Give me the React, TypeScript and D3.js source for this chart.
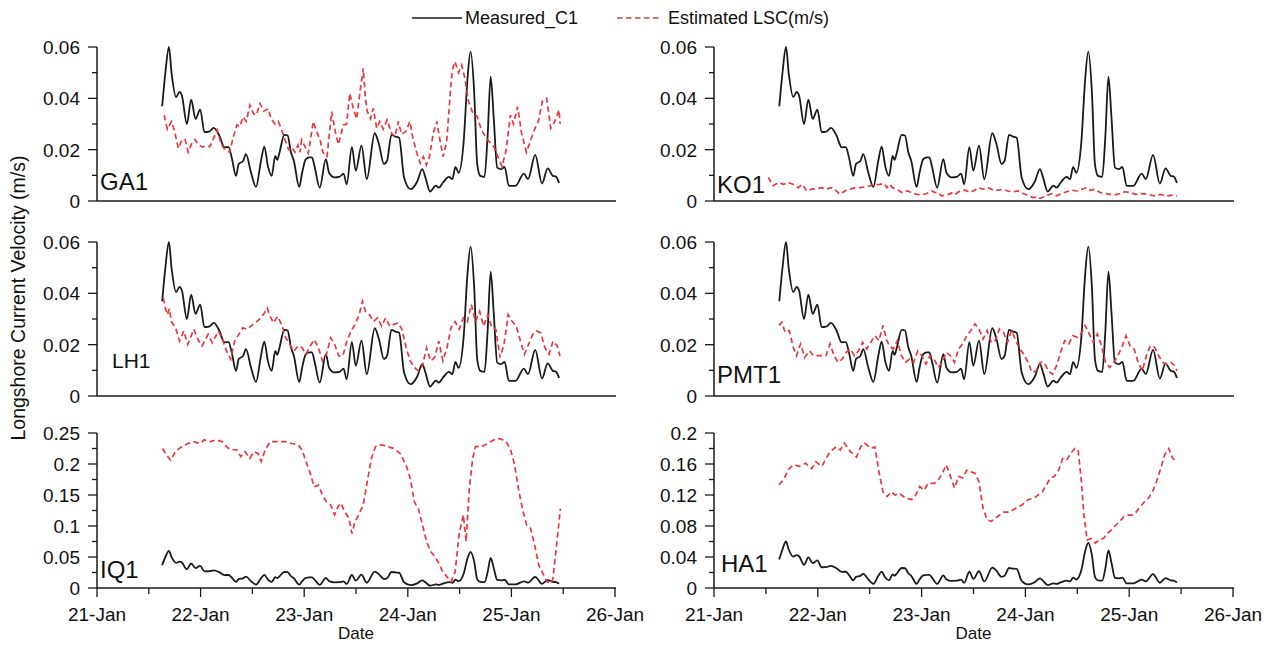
import React from 'react';
import * as d3 from 'd3';

// ---------- DATA ----------
const dayTicks = [21, 22, 23, 24, 25, 26];
const dayMinorTicks = [21.5, 22.5, 23.5, 24.5, 25.5];
const smallYTicks = [0, 0.02, 0.04, 0.06];
const smallYMinor = [0.01, 0.03, 0.05];
const iqYTicks = [0, 0.05, 0.1, 0.15, 0.2, 0.25];
const iqYMinor = [0.025, 0.075, 0.125, 0.175, 0.225];
const haYTicks = [0, 0.04, 0.08, 0.12, 0.16, 0.2];
const haYMinor = [0.02, 0.06, 0.1, 0.14, 0.18];
const seriesNames = ['Measured_C1', 'Estimated LSC(m/s)'];
const stationNames = ['GA1', 'KO1', 'LH1', 'PMT1', 'IQ1', 'HA1'];

// [day of January, velocity m/s]
const measured: [number, number][] = [
  [21.629, 0.0369], [21.66, 0.05], [21.694, 0.06], [21.72, 0.0497], [21.764, 0.0405], [21.796, 0.0425], [21.82, 0.041],
  [21.867, 0.03], [21.909, 0.0395], [21.951, 0.032], [21.996, 0.0356], [22.037, 0.0268], [22.08, 0.027], [22.127, 0.0285],
  [22.18, 0.0255], [22.23, 0.0209], [22.27, 0.021], [22.3, 0.017], [22.342, 0.0098], [22.368, 0.0144], [22.41, 0.0156],
  [22.438, 0.0183], [22.487, 0.011], [22.535, 0.0055], [22.583, 0.0157], [22.615, 0.0212], [22.65, 0.0135], [22.686, 0.0098],
  [22.721, 0.0176], [22.74, 0.016], [22.76, 0.0186], [22.808, 0.0258], [22.84, 0.0255], [22.872, 0.019], [22.9, 0.0157],
  [22.952, 0.0055], [22.98, 0.011], [23.016, 0.0163], [23.05, 0.017], [23.075, 0.017], [23.1, 0.0134], [23.15, 0.0052],
  [23.209, 0.0163], [23.24, 0.011], [23.29, 0.0092], [23.34, 0.0094], [23.38, 0.0107], [23.41, 0.0065], [23.46, 0.021],
  [23.498, 0.0118], [23.553, 0.0216], [23.604, 0.0085], [23.681, 0.0264], [23.72, 0.0224], [23.77, 0.0144], [23.8, 0.0157],
  [23.842, 0.0258], [23.88, 0.0251], [23.916, 0.0246], [23.964, 0.0092], [24.028, 0.0046], [24.09, 0.0075], [24.14, 0.0124],
  [24.17, 0.0092], [24.215, 0.0037], [24.27, 0.006], [24.3, 0.0052], [24.34, 0.0072], [24.398, 0.0094], [24.43, 0.0085],
  [24.46, 0.0133], [24.49, 0.011], [24.54, 0.0235], [24.575, 0.047], [24.606, 0.0582], [24.64, 0.043], [24.67, 0.0144],
  [24.7, 0.0098], [24.74, 0.0094], [24.77, 0.025], [24.8, 0.0484], [24.83, 0.032], [24.863, 0.013], [24.9, 0.0124],
  [24.934, 0.0133], [24.976, 0.0059], [25.04, 0.0059], [25.12, 0.0107], [25.16, 0.0085], [25.23, 0.018], [25.295, 0.0068],
  [25.35, 0.0127], [25.4, 0.0098], [25.43, 0.0095], [25.46, 0.007],
];

const ga1Est: [number, number][] = [
  [21.65, 0.0335], [21.66, 0.031], [21.68, 0.028], [21.72, 0.031], [21.75, 0.027], [21.785, 0.0205], [21.82, 0.0238],
  [21.85, 0.024], [21.88, 0.019], [21.91, 0.022], [21.945, 0.024], [21.98, 0.022], [22.016, 0.021], [22.05, 0.0215],
  [22.09, 0.0212], [22.12, 0.024], [22.16, 0.0277], [22.2, 0.022], [22.235, 0.02], [22.28, 0.019], [22.316, 0.025],
  [22.35, 0.0296], [22.38, 0.029], [22.41, 0.0328], [22.44, 0.031], [22.476, 0.0374], [22.51, 0.034], [22.54, 0.0335],
  [22.573, 0.038], [22.61, 0.035], [22.653, 0.036], [22.68, 0.032], [22.718, 0.03], [22.75, 0.031], [22.78, 0.028],
  [22.815, 0.0238], [22.85, 0.02], [22.88, 0.021], [22.91, 0.019], [22.94, 0.0218], [22.96, 0.019], [22.975, 0.0238],
  [23.01, 0.021], [23.04, 0.0186], [23.088, 0.031], [23.12, 0.027], [23.15, 0.0244], [23.18, 0.019], [23.22, 0.0173],
  [23.265, 0.0348], [23.3, 0.027], [23.33, 0.022], [23.377, 0.0296], [23.41, 0.03], [23.44, 0.042], [23.47, 0.0367],
  [23.506, 0.032], [23.545, 0.0445], [23.57, 0.0517], [23.59, 0.04], [23.61, 0.0348], [23.64, 0.032], [23.667, 0.0361],
  [23.7, 0.0283], [23.73, 0.031], [23.763, 0.028], [23.8, 0.0316], [23.844, 0.0264], [23.875, 0.025], [23.908, 0.031],
  [23.94, 0.026], [23.98, 0.027], [24.02, 0.031], [24.05, 0.0244], [24.085, 0.019], [24.12, 0.0147], [24.15, 0.0173],
  [24.18, 0.014], [24.21, 0.0173], [24.245, 0.0264], [24.28, 0.031], [24.31, 0.0238], [24.34, 0.0173], [24.375, 0.023],
  [24.41, 0.042], [24.43, 0.051], [24.455, 0.0543], [24.49, 0.05], [24.52, 0.053], [24.55, 0.048], [24.585, 0.039],
  [24.63, 0.034], [24.67, 0.033], [24.71, 0.0277], [24.77, 0.0238], [24.83, 0.0212], [24.87, 0.0173], [24.91, 0.0134],
  [24.95, 0.02], [24.99, 0.0335], [25.02, 0.03], [25.06, 0.0367], [25.1, 0.026], [25.145, 0.019], [25.18, 0.023],
  [25.225, 0.028], [25.26, 0.031], [25.3, 0.039], [25.34, 0.04], [25.38, 0.0283], [25.42, 0.031], [25.46, 0.0355],
  [25.47, 0.03],
];

const ko1Est: [number, number][] = [
  [21.523, 0.0092], [21.57, 0.0059], [21.62, 0.0072], [21.67, 0.0065], [21.716, 0.0072], [21.76, 0.0065], [21.812, 0.0052],
  [21.85, 0.0065], [21.893, 0.0039], [21.94, 0.0046], [21.99, 0.0048], [22.035, 0.0052], [22.08, 0.0046], [22.13, 0.0052],
  [22.17, 0.0042], [22.214, 0.0026], [22.26, 0.0039], [22.31, 0.0046], [22.36, 0.0052], [22.41, 0.0052], [22.455, 0.0055],
  [22.5, 0.0059], [22.551, 0.0063], [22.6, 0.0065], [22.64, 0.0068], [22.665, 0.0052], [22.69, 0.0065], [22.72, 0.0052],
  [22.76, 0.0046], [22.81, 0.0033], [22.86, 0.0039], [22.905, 0.0033], [22.953, 0.0026], [23.0, 0.0024], [23.05, 0.0029],
  [23.1, 0.0039], [23.13, 0.0033], [23.16, 0.0033], [23.19, 0.002], [23.26, 0.0026], [23.3, 0.0033], [23.324, 0.0026],
  [23.37, 0.0039], [23.42, 0.0042], [23.47, 0.0033], [23.51, 0.0042], [23.546, 0.0052], [23.59, 0.0046], [23.64, 0.0052],
  [23.69, 0.0042], [23.74, 0.0042], [23.787, 0.0046], [23.83, 0.0039], [23.88, 0.0036], [23.93, 0.0039], [23.98, 0.0029],
  [24.03, 0.002], [24.076, 0.0013], [24.11, 0.0016], [24.14, 0.001], [24.2, 0.002], [24.253, 0.0029], [24.3, 0.002],
  [24.35, 0.0029], [24.398, 0.0036], [24.45, 0.0042], [24.5, 0.0039], [24.543, 0.0046], [24.59, 0.0052], [24.625, 0.0042],
  [24.67, 0.0046], [24.719, 0.0033], [24.77, 0.0029], [24.815, 0.0026], [24.865, 0.0024], [24.91, 0.0029], [24.96, 0.0036],
  [25.01, 0.0033], [25.06, 0.0026], [25.12, 0.0029], [25.18, 0.0026], [25.24, 0.002], [25.3, 0.0026], [25.36, 0.002],
  [25.42, 0.0023], [25.46, 0.002],
];

const lh1Est: [number, number][] = [
  [21.64, 0.0382], [21.66, 0.0343], [21.679, 0.0317], [21.699, 0.034], [21.718, 0.029], [21.758, 0.0266], [21.797, 0.0214],
  [21.837, 0.0253], [21.876, 0.0201], [21.935, 0.026], [21.975, 0.022], [22.014, 0.0195], [22.073, 0.024], [22.112, 0.0208],
  [22.172, 0.0253], [22.211, 0.022], [22.25, 0.0175], [22.29, 0.0143], [22.329, 0.0214], [22.369, 0.024], [22.408, 0.0266],
  [22.447, 0.026], [22.507, 0.0279], [22.566, 0.0298], [22.605, 0.0317], [22.644, 0.0343], [22.664, 0.0317], [22.703, 0.0285],
  [22.743, 0.031], [22.782, 0.0279], [22.821, 0.0227], [22.861, 0.0201], [22.9, 0.0175], [22.94, 0.0195], [22.979, 0.0188],
  [23.018, 0.0163], [23.058, 0.0195], [23.097, 0.022], [23.137, 0.0188], [23.176, 0.0137], [23.215, 0.0163], [23.255, 0.0227],
  [23.294, 0.0201], [23.333, 0.0156], [23.373, 0.0156], [23.412, 0.0214], [23.452, 0.0253], [23.491, 0.0279], [23.531, 0.0317],
  [23.562, 0.0369], [23.59, 0.033], [23.629, 0.0317], [23.669, 0.029], [23.708, 0.0304], [23.747, 0.0272], [23.787, 0.0304],
  [23.826, 0.0272], [23.866, 0.0279], [23.905, 0.0285], [23.944, 0.026], [23.984, 0.0188], [24.023, 0.0137], [24.063, 0.0111],
  [24.102, 0.0098], [24.141, 0.0117], [24.181, 0.0188], [24.22, 0.0137], [24.26, 0.015], [24.299, 0.0214], [24.338, 0.0137],
  [24.378, 0.0188], [24.417, 0.0266], [24.457, 0.029], [24.496, 0.026], [24.536, 0.0304], [24.575, 0.029], [24.614, 0.0356],
  [24.654, 0.029], [24.693, 0.033], [24.732, 0.0272], [24.772, 0.0317], [24.811, 0.0266], [24.85, 0.026], [24.89, 0.015],
  [24.929, 0.0201], [24.969, 0.0317], [25.008, 0.029], [25.047, 0.0272], [25.087, 0.0214], [25.126, 0.0163], [25.166, 0.0201],
  [25.205, 0.024], [25.244, 0.0253], [25.284, 0.0246], [25.323, 0.0188], [25.363, 0.0163], [25.402, 0.0214], [25.442, 0.0195],
  [25.469, 0.0156],
];

const pmt1Est: [number, number][] = [
  [21.626, 0.0275], [21.654, 0.0288], [21.685, 0.0248], [21.724, 0.0255], [21.764, 0.019], [21.795, 0.0157], [21.834, 0.0203],
  [21.874, 0.015], [21.921, 0.0176], [21.96, 0.0157], [22.019, 0.0157], [22.078, 0.0157], [22.118, 0.0203], [22.157, 0.0157],
  [22.196, 0.0131], [22.235, 0.0144], [22.275, 0.017], [22.314, 0.0183], [22.353, 0.0157], [22.393, 0.0176], [22.432, 0.0209],
  [22.471, 0.0183], [22.511, 0.0209], [22.55, 0.0235], [22.589, 0.0216], [22.628, 0.0275], [22.66, 0.0222], [22.688, 0.0196],
  [22.727, 0.0183], [22.766, 0.0216], [22.806, 0.0157], [22.845, 0.0131], [22.884, 0.0144], [22.924, 0.0131], [22.963, 0.0176],
  [23.002, 0.0157], [23.042, 0.0124], [23.081, 0.0157], [23.12, 0.0144], [23.16, 0.0111], [23.199, 0.0131], [23.238, 0.017],
  [23.278, 0.0157], [23.317, 0.0131], [23.356, 0.0183], [23.396, 0.0203], [23.435, 0.0235], [23.474, 0.0255], [23.514, 0.0281],
  [23.553, 0.0261], [23.592, 0.0222], [23.631, 0.0255], [23.671, 0.0209], [23.71, 0.0216], [23.749, 0.0261], [23.789, 0.0248],
  [23.828, 0.0209], [23.867, 0.0255], [23.907, 0.0216], [23.946, 0.0183], [23.985, 0.0163], [24.025, 0.0131], [24.064, 0.0092],
  [24.103, 0.0098], [24.143, 0.0131], [24.182, 0.0131], [24.221, 0.0098], [24.261, 0.0085], [24.3, 0.0118], [24.339, 0.017],
  [24.379, 0.0216], [24.418, 0.0203], [24.457, 0.0235], [24.497, 0.0229], [24.536, 0.0242], [24.575, 0.0275], [24.615, 0.0242],
  [24.654, 0.0209], [24.693, 0.0242], [24.733, 0.0196], [24.772, 0.0131], [24.811, 0.0111], [24.851, 0.0131], [24.89, 0.0157],
  [24.929, 0.019], [24.969, 0.0235], [25.008, 0.0196], [25.047, 0.0183], [25.087, 0.0131], [25.126, 0.0098], [25.165, 0.0157],
  [25.204, 0.0196], [25.244, 0.019], [25.283, 0.0157], [25.322, 0.0131], [25.362, 0.0124], [25.401, 0.0131], [25.44, 0.0118],
  [25.46, 0.0098],
];

const iq1Est: [number, number][] = [
  [21.632, 0.225], [21.66, 0.217], [21.71, 0.206], [21.758, 0.22], [21.817, 0.228], [21.876, 0.233], [21.935, 0.236],
  [21.994, 0.233], [22.033, 0.239], [22.093, 0.236], [22.152, 0.239], [22.211, 0.236], [22.25, 0.228], [22.29, 0.223],
  [22.349, 0.223], [22.388, 0.212], [22.428, 0.22], [22.475, 0.209], [22.514, 0.22], [22.554, 0.217], [22.585, 0.204],
  [22.625, 0.223], [22.672, 0.236], [22.743, 0.236], [22.821, 0.236], [22.88, 0.233], [22.94, 0.231], [22.979, 0.223],
  [23.018, 0.204], [23.058, 0.185], [23.097, 0.163], [23.137, 0.166], [23.176, 0.15], [23.215, 0.139], [23.255, 0.134],
  [23.294, 0.118], [23.326, 0.131], [23.353, 0.137], [23.393, 0.123], [23.432, 0.112], [23.46, 0.088], [23.491, 0.107],
  [23.531, 0.12], [23.57, 0.134], [23.609, 0.172], [23.649, 0.209], [23.688, 0.228], [23.747, 0.231], [23.806, 0.228],
  [23.866, 0.225], [23.925, 0.217], [23.984, 0.198], [24.023, 0.177], [24.063, 0.139], [24.102, 0.128], [24.141, 0.102],
  [24.181, 0.075], [24.22, 0.059], [24.26, 0.051], [24.299, 0.04], [24.338, 0.026], [24.378, 0.018], [24.417, 0.01],
  [24.457, 0.026], [24.496, 0.088], [24.536, 0.118], [24.563, 0.075], [24.594, 0.161], [24.626, 0.209], [24.654, 0.228],
  [24.713, 0.228], [24.772, 0.233], [24.831, 0.239], [24.89, 0.241], [24.949, 0.236], [24.988, 0.225], [25.028, 0.201],
  [25.067, 0.161], [25.106, 0.128], [25.146, 0.102], [25.185, 0.096], [25.225, 0.069], [25.264, 0.037], [25.303, 0.024],
  [25.343, 0.01], [25.382, 0.0075], [25.402, 0.016], [25.422, 0.048], [25.453, 0.096], [25.473, 0.128],
];

const ha1Est: [number, number][] = [
  [21.626, 0.133], [21.665, 0.139], [21.724, 0.154], [21.764, 0.159], [21.823, 0.157], [21.882, 0.161], [21.941, 0.154],
  [21.98, 0.163], [22.039, 0.157], [22.078, 0.167], [22.118, 0.176], [22.176, 0.182], [22.216, 0.178], [22.255, 0.187],
  [22.314, 0.176], [22.373, 0.169], [22.412, 0.182], [22.452, 0.187], [22.511, 0.18], [22.55, 0.182], [22.589, 0.15],
  [22.628, 0.124], [22.668, 0.118], [22.707, 0.124], [22.746, 0.12], [22.786, 0.122], [22.845, 0.116], [22.904, 0.114],
  [22.943, 0.12], [22.983, 0.131], [23.022, 0.126], [23.061, 0.135], [23.12, 0.135], [23.16, 0.139], [23.199, 0.148],
  [23.238, 0.159], [23.278, 0.144], [23.317, 0.129], [23.356, 0.144], [23.396, 0.142], [23.435, 0.152], [23.474, 0.15],
  [23.514, 0.148], [23.553, 0.137], [23.592, 0.103], [23.631, 0.088], [23.671, 0.086], [23.73, 0.092], [23.789, 0.098],
  [23.848, 0.098], [23.907, 0.103], [23.966, 0.107], [24.025, 0.114], [24.084, 0.116], [24.123, 0.12], [24.163, 0.124],
  [24.202, 0.133], [24.241, 0.142], [24.28, 0.144], [24.32, 0.152], [24.359, 0.167], [24.398, 0.165], [24.438, 0.174],
  [24.477, 0.18], [24.508, 0.178], [24.536, 0.142], [24.564, 0.094], [24.595, 0.062], [24.634, 0.064], [24.673, 0.058],
  [24.713, 0.062], [24.752, 0.064], [24.792, 0.071], [24.831, 0.075], [24.87, 0.081], [24.909, 0.086], [24.949, 0.092],
  [24.988, 0.094], [25.027, 0.094], [25.067, 0.098], [25.106, 0.105], [25.145, 0.111], [25.185, 0.116], [25.224, 0.124],
  [25.263, 0.137], [25.303, 0.154], [25.342, 0.172], [25.381, 0.18], [25.421, 0.167], [25.46, 0.163],
];

// ---------- LAYOUT ----------
const W = 1270;
const H = 645;
const FONT = '"Liberation Sans", Arial, Helvetica, sans-serif';
const BLACK = '#1a1a1a';
const RED = '#e8383d';

const cols = [
  { x0: 97, x1: 615 },
  { x0: 714, x1: 1233 },
];
const rows = [
  { top: 47, bottom: 201 },
  { top: 242, bottom: 396 },
  { top: 433, bottom: 588 },
];

const base = new Date(2020, 0, 1).getTime();
const toDate = (d: number) => new Date(base + (d - 1) * 86400000);
const fmtDate = d3.timeFormat('%d-%b');

interface PanelDef {
  name: string;
  est: [number, number][];
  yTicks: number[];
  yMinor: number[];
  col: number;
  row: number;
  label: { dx: number; y: number; size: number };
}

const panels: PanelDef[] = [
  { name: stationNames[0], est: ga1Est, yTicks: smallYTicks, yMinor: smallYMinor, col: 0, row: 0, label: { dx: 3, y: 190, size: 24 } },
  { name: stationNames[1], est: ko1Est, yTicks: smallYTicks, yMinor: smallYMinor, col: 1, row: 0, label: { dx: 3, y: 193, size: 24 } },
  { name: stationNames[2], est: lh1Est, yTicks: smallYTicks, yMinor: smallYMinor, col: 0, row: 1, label: { dx: 15, y: 368, size: 21 } },
  { name: stationNames[3], est: pmt1Est, yTicks: smallYTicks, yMinor: smallYMinor, col: 1, row: 1, label: { dx: 3, y: 383, size: 24 } },
  { name: stationNames[4], est: iq1Est, yTicks: iqYTicks, yMinor: iqYMinor, col: 0, row: 2, label: { dx: 3, y: 578, size: 24 } },
  { name: stationNames[5], est: ha1Est, yTicks: haYTicks, yMinor: haYMinor, col: 1, row: 2, label: { dx: 7, y: 572, size: 24 } },
];

const Txt: React.FC<{
  x: number; y: number; size: number; anchor?: string; rotate?: number; children: React.ReactNode;
}> = ({ x, y, size, anchor = 'start', rotate = 0, children }) => (
  <text
    transform={`translate(${x},${y})${rotate ? ` rotate(${rotate})` : ''}`}
    fontFamily={FONT}
    fontSize={size}
    textAnchor={anchor as any}
    fill="#111"
  >
    {children}
  </text>
);

const Panel: React.FC<{ p: PanelDef }> = ({ p }) => {
  const c = cols[p.col];
  const r = rows[p.row];
  const x = d3.scaleTime().domain([toDate(dayTicks[0]), toDate(dayTicks[dayTicks.length - 1])]).range([c.x0, c.x1]);
  const yMax = p.yTicks[p.yTicks.length - 1];
  const y = d3.scaleLinear().domain([0, yMax]).range([r.bottom, r.top]);
  const blackLine = d3
    .line<[number, number]>()
    .x((d) => x(toDate(d[0])))
    .y((d) => y(d[1]))
    .curve(d3.curveMonotoneX);
  const redLine = d3
    .line<[number, number]>()
    .x((d) => x(toDate(d[0])))
    .y((d) => y(d[1]))
    .curve(d3.curveLinear);
  const isBottom = p.row === 2;
  const fmtY = (v: number) => (v === 0 ? '0' : d3.format('~g')(+v.toFixed(3)));
  return (
    <g>
      <line x1={c.x0} x2={c.x1 + 1} y1={r.bottom} y2={r.bottom} stroke={BLACK} strokeWidth={1.5} />
      <line x1={c.x0} x2={c.x0} y1={r.top} y2={r.bottom} stroke={BLACK} strokeWidth={1.5} />
      {p.yTicks.map((t) => (
        <g key={'yt' + t}>
          <line x1={c.x0 - 9} x2={c.x0} y1={y(t)} y2={y(t)} stroke={BLACK} strokeWidth={1.3} />
          <Txt x={c.x0 - 17} y={y(t) + 7} size={19} anchor="end">
            {fmtY(t)}
          </Txt>
        </g>
      ))}
      {p.yMinor.map((t) => (
        <line key={'ym' + t} x1={c.x0 - 5} x2={c.x0} y1={y(t)} y2={y(t)} stroke={BLACK} strokeWidth={1.3} />
      ))}
      {isBottom &&
        dayTicks.map((d) => (
          <g key={'xt' + d}>
            <line x1={x(toDate(d))} x2={x(toDate(d))} y1={r.bottom} y2={r.bottom + 9} stroke={BLACK} strokeWidth={1.3} />
            <Txt x={x(toDate(d))} y={r.bottom + 33} size={19} anchor="middle">
              {fmtDate(toDate(d))}
            </Txt>
          </g>
        ))}
      {isBottom &&
        dayMinorTicks.map((d) => (
          <line key={'xm' + d} x1={x(toDate(d))} x2={x(toDate(d))} y1={r.bottom} y2={r.bottom + 6} stroke={BLACK} strokeWidth={1.3} />
        ))}
      {isBottom && (
        <Txt x={(c.x0 + c.x1) / 2} y={639} size={17} anchor="middle">
          Date
        </Txt>
      )}
      <path d={blackLine(measured) || ''} fill="none" stroke={BLACK} strokeWidth={1.8} strokeLinejoin="round" />
      <path d={redLine(p.est) || ''} fill="none" stroke={RED} strokeWidth={1.7} strokeDasharray="5.5,3.5" />
      <Txt x={c.x0 + p.label.dx} y={p.label.y} size={p.label.size}>
        {p.name}
      </Txt>
    </g>
  );
};

export default function App() {
  return (
    <svg
      width={W}
      height={H}
      viewBox={`0 0 ${W} ${H}`}
      style={{ position: 'absolute', left: 0, top: 0, background: '#fff' }}
    >
      <rect x={0} y={0} width={W} height={H} fill="#fff" />
      <line x1={412} x2={462} y1={18} y2={18} stroke={BLACK} strokeWidth={1.7} />
      <Txt x={465} y={24} size={18}>
        {seriesNames[0]}
      </Txt>
      <line x1={617} x2={662} y1={18} y2={18} stroke={RED} strokeWidth={1.7} strokeDasharray="5.5,3.5" />
      <Txt x={668} y={24} size={18}>
        {seriesNames[1]}
      </Txt>
      <Txt x={25} y={298} size={19.5} anchor="middle" rotate={-90}>
        Longshore Current Velocity (m/s)
      </Txt>
      {panels.map((p) => (
        <Panel key={p.name} p={p} />
      ))}
    </svg>
  );
}
